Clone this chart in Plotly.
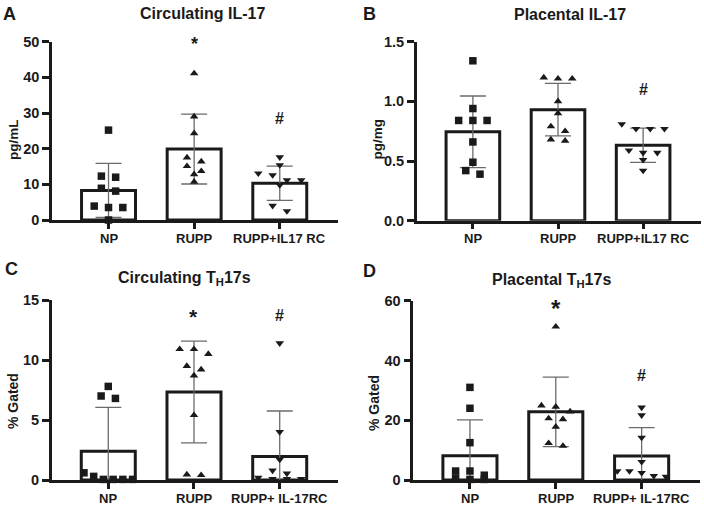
import plotly.graph_objects as go

W, H = 704, 508
FONT = "Liberation Sans, Arial, sans-serif"
INK = "#1a1a1a"

# ---- data ----
groups_ab = ["NP", "RUPP", "RUPP+IL17 RC"]
groups_cd = ["NP", "RUPP", "RUPP+ IL-17RC"]

# A: circulating IL-17 (pg/mL)
a_np = [25.2, 12.3, 12.0, 8.9, 8.1, 3.9, 3.5, 3.5, 0.0]
a_rupp = [41.1, 29.0, 24.3, 17.5, 16.4, 15.1, 13.7, 12.8, 10.7]
a_rc = [17.6, 15.4, 13.1, 12.6, 11.2, 11.2, 9.8, 4.0, 2.5]
a_mean = [8.3, 19.9, 10.3]
a_sd = [7.6, 9.8, 4.8]

# B: placental IL-17 (pg/mg)
b_np = [1.34, 0.94, 0.84, 0.84, 0.84, 0.66, 0.49, 0.42, 0.39]
b_rupp = [1.20, 1.19, 1.19, 1.00, 0.90, 0.79, 0.75, 0.68, 0.67]
b_rc = [0.81, 0.77, 0.77, 0.77, 0.59, 0.57, 0.57, 0.51, 0.42]
b_mean = [0.745, 0.93, 0.632]
b_sd = [0.30, 0.22, 0.144]

# C: circulating TH17s (% gated)
c_np = [7.8, 7.0, 6.8, 0.6, 0.3, 0.05, 0.05, 0.05, 0.05]
c_rupp = [10.9, 10.9, 10.5, 9.5, 9.2, 8.7, 5.4, 0.45, 0.4]
c_rc = [11.4, 4.0, 1.7, 0.8, 0.55, 0.2, 0.1, 0.1, 0.1]
c_mean = [2.4, 7.33, 1.95]
c_sd = [3.65, 4.24, 3.8]

# D: placental TH17s (% gated)
d_np = [31.0, 24.0, 12.5, 3.0, 3.0, 1.6, 0.6, 0.2, 0.2]
d_rupp = [51.3, 24.9, 24.5, 22.9, 20.6, 20.3, 17.8, 12.3, 11.4]
d_rc = [24.3, 21.7, 14.2, 6.1, 3.0, 3.0, 2.4, 1.4, 1.1]
d_mean = [8.1, 22.8, 8.0]
d_sd = [12.0, 11.6, 9.5]

panels = [
    dict(letter="A", title="Circulating IL-17", ytitle="pg/mL", groups=groups_ab,
         pts=[a_np, a_rupp, a_rc], mean=a_mean, sd=a_sd,
         ymax=50, ytick=[0, 10, 20, 30, 40, 50], yfmt="{:.0f}",
         box=(52, 338, 41.7, 220), marks=[("*", 1, 44, 18), ("#", 2, 118, 16)],
         title_xy=(202, 14), letter_xy=(9, 14), ytitle_xy=(14, 140)),
    dict(letter="B", title="Placental IL-17", ytitle="pg/mg", groups=groups_ab,
         pts=[b_np, b_rupp, b_rc], mean=b_mean, sd=b_sd,
         ymax=1.5, ytick=[0, 0.5, 1.0, 1.5], yfmt="{:.1f}",
         box=(416.7, 701, 41.7, 220.7), marks=[("#", 2, 89, 16)],
         title_xy=(570, 14.5), letter_xy=(370, 14), ytitle_xy=(377, 139.5)),
    dict(letter="C", title="Circulating T<sub>H</sub>17s", ytitle="% Gated", groups=groups_cd,
         pts=[c_np, c_rupp, c_rc], mean=c_mean, sd=c_sd,
         ymax=15, ytick=[0, 5, 10, 15], yfmt="{:.0f}",
         box=(51.7, 338, 300, 480), marks=[("*", 1, 316, 21), ("#", 2, 315, 16)],
         title_xy=(184, 278), letter_xy=(11, 269), ytitle_xy=(12.5, 401.6)),
    dict(letter="D", title="Placental T<sub>H</sub>17s", ytitle="% Gated", groups=groups_cd,
         pts=[d_np, d_rupp, d_rc], mean=d_mean, sd=d_sd,
         ymax=60, ytick=[0, 20, 40, 60], yfmt="{:.0f}",
         box=(413.3, 700, 300.7, 480), marks=[("*", 1, 308.5, 24), ("#", 2, 375, 16)],
         title_xy=(551.5, 280), letter_xy=(370, 271), ytitle_xy=(373.5, 403.5)),
]

SYMBOLS = ["square", "triangle-up", "triangle-down"]
XRANGE = [-0.66, 2.68]
BAR_W = 0.63
XLABEL_GAP = 18  # px from x axis line down to the centre of the category labels


def px_x(x):
    return x / W


def px_y(y):
    return 1 - y / H


# simple GraphPad-like scatter: points of similar value share a row
def swarm(vals, center, px_per_unit, thresh=7, step=0.167):
    order = sorted(range(len(vals)), key=lambda i: -vals[i])
    rows = []
    for i in order:
        if rows and (vals[rows[-1][0]] - vals[i]) * px_per_unit < thresh:
            rows[-1].append(i)
        else:
            rows.append([i])
    xs = [center] * len(vals)
    for row in rows:
        n = len(row)
        st = step if n < 2 else min(step, BAR_W * 0.9 / (n - 1))
        for k, i in enumerate(row):
            xs[i] = center + (k - (n - 1) / 2) * st
    return xs


fig = go.Figure()
annotations = []

for n, p in enumerate(panels, start=1):
    xa, ya = ("x", "y") if n == 1 else (f"x{n}", f"y{n}")
    x0, x1, y0, y1 = p["box"]
    px_per_unit = (y1 - y0) / p["ymax"]

    fig.add_trace(go.Bar(
        x=[0, 1, 2], y=p["mean"], width=BAR_W, xaxis=xa, yaxis=ya,
        marker=dict(color="white", line=dict(color=INK, width=3)),
        error_y=dict(type="data", array=p["sd"], visible=True,
                     color="#6b6b6b", thickness=1.3, width=13),
        hoverinfo="skip",
    ))
    for g, vals in enumerate(p["pts"]):
        fig.add_trace(go.Scatter(
            x=swarm(vals, g, px_per_unit), y=vals, mode="markers",
            xaxis=xa, yaxis=ya, cliponaxis=False,
            marker=dict(symbol=SYMBOLS[g], size=7.5, color=INK),
        ))

    fig.update_layout(**{
        ("xaxis" if n == 1 else f"xaxis{n}"): dict(
            domain=[px_x(x0), px_x(x1)], anchor=ya, range=XRANGE,
            tickvals=[0, 1, 2], showticklabels=False, ticks="outside",
            ticklen=6, tickwidth=2.5, tickcolor=INK, showline=True,
            linewidth=2.5, linecolor=INK, showgrid=False, zeroline=False,
            automargin=False,
        ),
        ("yaxis" if n == 1 else f"yaxis{n}"): dict(
            domain=[px_y(y1), px_y(y0)], anchor=xa, range=[0, p["ymax"]],
            tickvals=p["ytick"], ticktext=[p["yfmt"].format(v) for v in p["ytick"]],
            ticks="outside", ticklen=7, tickwidth=2.5, tickcolor=INK,
            showline=True, linewidth=2.5, linecolor=INK, showgrid=False,
            zeroline=False, automargin=False,
            tickfont=dict(family=FONT, size=14.5, color=INK, weight="bold"),
        ),
    })

    # category labels
    for g, name in enumerate(p["groups"]):
        annotations.append(dict(text=name, x=g, y=px_y(y1 + XLABEL_GAP), xref=xa, yref="paper",
                                showarrow=False, xanchor="center", yanchor="middle",
                                font=dict(family=FONT, size=13, color=INK, weight="bold")))

    tx, ty = p["title_xy"]
    annotations.append(dict(text=p["title"], x=px_x(tx), y=px_y(ty), xref="paper", yref="paper",
                            showarrow=False, xanchor="center", yanchor="middle",
                            font=dict(family=FONT, size=16, color=INK, weight="bold")))
    lx, ly = p["letter_xy"]
    annotations.append(dict(text=p["letter"], x=px_x(lx), y=px_y(ly), xref="paper", yref="paper",
                            showarrow=False, xanchor="center", yanchor="middle",
                            font=dict(family=FONT, size=18, color=INK, weight="bold")))
    yx, yy = p["ytitle_xy"]
    annotations.append(dict(text=p["ytitle"], x=px_x(yx), y=px_y(yy), xref="paper", yref="paper",
                            showarrow=False, textangle=-90, xanchor="center", yanchor="middle",
                            font=dict(family=FONT, size=14 if n > 2 else 13.5, color=INK, weight="bold")))
    for sym, gx, gy, fs in p["marks"]:
        annotations.append(dict(text=sym, x=gx, y=px_y(gy), xref=xa, yref="paper",
                                showarrow=False, xanchor="center", yanchor="middle",
                                font=dict(family=FONT, size=fs, color=INK, weight="bold")))

fig.update_layout(
    width=W, height=H, autosize=False,
    margin=dict(l=0, r=0, t=0, b=0, pad=0, autoexpand=False),
    paper_bgcolor="white", plot_bgcolor="white",
    showlegend=False, annotations=annotations,
)

# the page body has a default 8px margin; drop it so the figure fills the window exactly
fig.write_html("out.html", config={"displayModeBar": False},
               post_script="document.body.style.margin='0';")
